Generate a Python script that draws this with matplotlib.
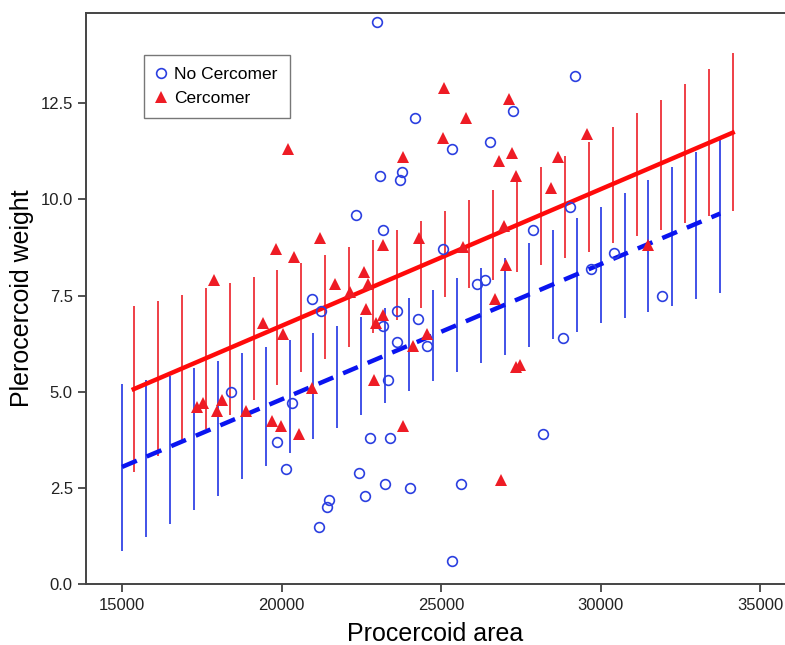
import matplotlib.pyplot as plt
import numpy as np

plt.rcParams['font.family'] = ['Liberation Sans', 'DejaVu Sans']

# No Cercomer group (area, weight)
no_cerc_area = [22994, 29200, 24186, 27260, 25340, 26540, 23100, 23780, 23720, 22340,
                23170, 25050, 27880, 29025, 30424, 29694, 26120, 26380, 23630, 24290,
                20947, 21240, 23170, 18417, 20320, 19870, 20140, 21185, 21417, 21490,
                22440, 22630, 22775, 23245, 23400, 23350, 23610, 24030, 24550, 25350,
                28835, 28190, 25630, 31920]
no_cerc_weight = [14.6, 13.2, 12.1, 12.3, 11.3, 11.5, 10.6, 10.7, 10.5, 9.6,
                  9.2, 8.7, 9.2, 9.8, 8.6, 8.2, 7.8, 7.9, 7.1, 6.9,
                  7.4, 7.1, 6.7, 5.0, 4.7, 3.7, 3.0, 1.5, 2.0, 2.2,
                  2.9, 2.3, 3.8, 2.6, 3.8, 5.3, 6.3, 2.5, 6.2, 0.6,
                  6.4, 3.9, 2.6, 7.5]

# Cercomer group (area, weight)
cerc_area = [20215, 19830, 20390, 21210, 17885, 21680, 22590, 22720, 22150, 22650,
             23190, 22950, 23190, 19430, 20030, 17340, 17550, 17970, 18125, 18880,
             19690, 19985, 20550, 20950, 22910, 23820, 24110, 24550, 23820, 25105,
             25050, 24320, 27135, 25785, 27215, 26820, 28680, 27350, 29570, 28440,
             26980, 25680, 27030, 26690, 31500, 27350, 27480, 26870]
cerc_weight = [11.3, 8.7, 8.5, 9.0, 7.9, 7.8, 8.1, 7.8, 7.6, 7.15,
               8.8, 6.8, 7.0, 6.8, 6.5, 4.6, 4.7, 4.5, 4.8, 4.5,
               4.25, 4.1, 3.9, 5.1, 5.3, 4.1, 6.2, 6.5, 11.1, 12.9,
               11.6, 9.0, 12.6, 12.1, 11.2, 11.0, 11.1, 10.6, 11.7, 10.3,
               9.3, 8.75, 8.3, 7.4, 8.8, 5.65, 5.7, 2.7]

# fitted lines (endpoints)
cerc_fit_x = [15365, 34140]
cerc_fit_y = [5.07, 11.73]
no_cerc_fit_x = [15000, 33750]
no_cerc_fit_y = [3.05, 9.63]

# interval bars around the fits
cerc_bar_x = [15365, 16116, 16867, 17618, 18369, 19120, 19871, 20622, 21373, 22124,
              22875, 23626, 24377, 25128, 25879, 26630, 27381, 28132, 28883, 29634,
              30385, 31136, 31887, 32638, 33389, 34140]
cerc_bar_hi = [7.23, 7.35, 7.52, 7.70, 7.83, 7.99, 8.17, 8.34, 8.55, 8.77,
               8.95, 9.20, 9.44, 9.70, 9.98, 10.24, 10.59, 10.85, 11.12, 11.50,
               11.89, 12.25, 12.58, 12.99, 13.38, 13.81]
cerc_bar_lo = [2.92, 3.33, 3.66, 4.04, 4.40, 4.80, 5.18, 5.52, 5.84, 6.17,
               6.52, 6.86, 7.17, 7.47, 7.69, 7.90, 8.12, 8.29, 8.47, 8.64,
               8.86, 9.05, 9.21, 9.39, 9.57, 9.70]

no_cerc_bar_x = [15000, 15750, 16500, 17250, 18000, 18750, 19500, 20250, 21000, 21750,
                 22500, 23250, 24000, 24750, 25500, 26250, 27000, 27750, 28500, 29250,
                 30000, 30750, 31500, 32250, 33000, 33750]
no_cerc_bar_hi = [5.20, 5.32, 5.41, 5.61, 5.81, 6.00, 6.16, 6.35, 6.52, 6.72,
                  6.95, 7.17, 7.43, 7.64, 7.95, 8.21, 8.47, 8.86, 9.20, 9.51,
                  9.81, 10.16, 10.50, 10.85, 11.22, 11.55]
no_cerc_bar_lo = [0.87, 1.24, 1.58, 1.93, 2.29, 2.73, 3.08, 3.42, 3.77, 4.05,
                  4.40, 4.71, 5.01, 5.28, 5.51, 5.74, 5.96, 6.17, 6.37, 6.56,
                  6.78, 6.91, 7.08, 7.24, 7.41, 7.57]

red = '#ee1c25'
blue = '#2b3fe0'

fig = plt.figure(figsize=(7.85, 6.45), dpi=100)
ax = fig.add_axes([0.1096, 0.094, 0.8904, 0.886])

ax.vlines(no_cerc_bar_x, no_cerc_bar_lo, no_cerc_bar_hi, color='#3344e6', linewidth=1.3, zorder=1)
ax.vlines(cerc_bar_x, cerc_bar_lo, cerc_bar_hi, color='#ee3038', linewidth=1.3, zorder=1)

ax.plot(no_cerc_fit_x, no_cerc_fit_y, color='#0a14f0', linewidth=3.2,
        dashes=(3.6, 2.4), zorder=2)
ax.plot(cerc_fit_x, cerc_fit_y, color='#ff0a0a', linewidth=3.2, zorder=2)

ax.plot(no_cerc_area, no_cerc_weight, linestyle='none', marker='o', markersize=7,
        markerfacecolor='none', markeredgecolor=blue, markeredgewidth=1.2,
        label='No Cercomer', zorder=3)
ax.plot(cerc_area, cerc_weight, linestyle='none', marker='^', markersize=8.5,
        color=red, markeredgewidth=0, label='Cercomer', zorder=3)

ax.set_xlim(13870, 35780)
ax.set_ylim(0, 14.84)
ax.set_xticks([15000, 20000, 25000, 30000, 35000])
ax.set_yticks([0.0, 2.5, 5.0, 7.5, 10.0, 12.5])
ax.set_yticklabels(['0.0', '2.5', '5.0', '7.5', '10.0', '12.5'])
ax.tick_params(labelsize=12, length=6, width=1.2, color='#333333', labelcolor='#222222')

for side in ['left', 'top', 'bottom']:
    ax.spines[side].set_color('#444444')
    ax.spines[side].set_linewidth(1.4)
ax.spines['right'].set_visible(False)

ax.set_xlabel('Procercoid area', fontsize=18, labelpad=7)
ax.set_ylabel('Plerocercoid weight', fontsize=18, labelpad=5)

leg = ax.legend(loc='upper left', bbox_to_anchor=(0.083, 0.9265), borderaxespad=0,
                fontsize=12.5, frameon=True, fancybox=False, handletextpad=0.45,
                handlelength=0.6, borderpad=0.7, labelspacing=0.5)
leg.get_frame().set_edgecolor('#555555')
leg.get_frame().set_linewidth(1.0)

fig.savefig('out.png', dpi=100)
